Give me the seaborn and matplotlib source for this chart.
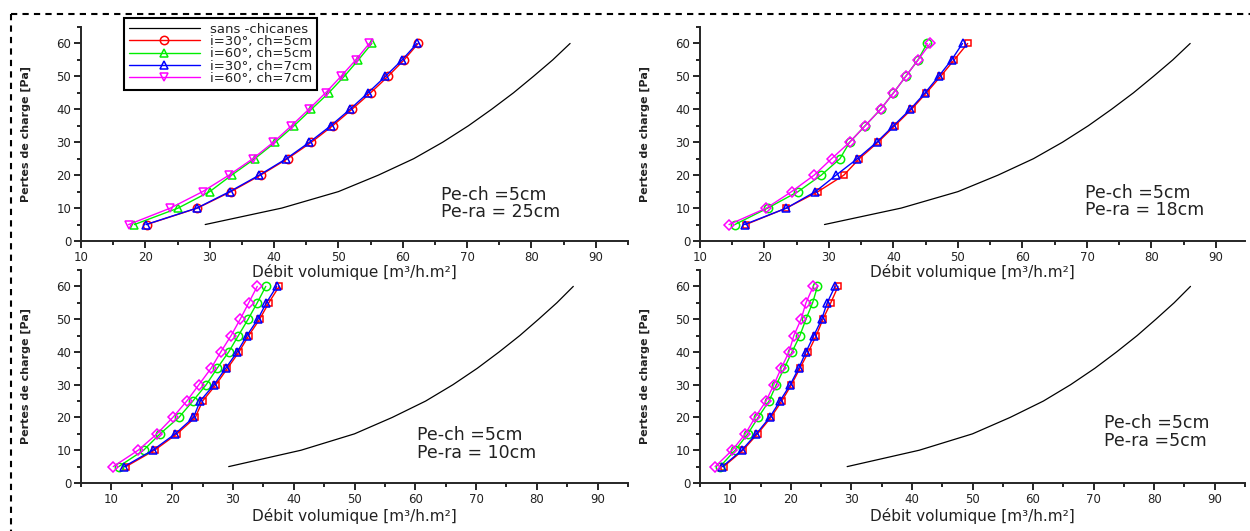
import numpy as np
import pandas as pd
import seaborn as sns
import matplotlib
matplotlib.use("Agg")
import matplotlib.pyplot as plt
from matplotlib.lines import Line2D
from matplotlib.ticker import MultipleLocator

# ---------------- data ----------------
pressure = [5, 10, 15, 20, 25, 30, 35, 40, 45, 50, 55, 60]
sans_chicanes = [29.3, 41.2, 50.0, 56.2, 61.7, 66.2, 70.2, 73.8, 77.2, 80.3, 83.3, 86.0]

# Pe-ra = 25cm (top-left)
tl_30_5 = [20.2, 28.1, 33.3, 37.9, 42.1, 45.8, 49.1, 52.1, 55.0, 57.7, 60.2, 62.4]
tl_60_5 = [18.3, 25.1, 30.0, 33.4, 37.0, 40.2, 43.1, 45.8, 48.5, 50.9, 53.1, 55.2]
tl_30_7 = [20.1, 28.0, 33.1, 37.7, 41.9, 45.5, 48.8, 51.8, 54.6, 57.3, 59.9, 62.2]
tl_60_7 = [17.4, 23.9, 28.9, 33.0, 36.7, 39.9, 42.7, 45.4, 48.0, 50.4, 52.7, 54.8]

# Pe-ra = 18cm (top-right)
tr_30_5 = [17.1, 23.4, 28.3, 32.3, 34.7, 37.6, 40.2, 42.8, 45.1, 47.3, 49.4, 51.5]
tr_60_5 = [15.4, 20.5, 25.2, 28.8, 31.7, 33.2, 35.6, 38.0, 40.0, 41.9, 43.8, 45.2]
tr_30_7 = [16.9, 23.4, 27.9, 31.1, 34.4, 37.4, 40.0, 42.6, 44.9, 47.0, 49.0, 50.7]
tr_60_7 = [14.5, 20.3, 24.2, 27.7, 30.4, 33.2, 35.6, 38.0, 40.0, 41.9, 43.8, 45.7]

# Pe-ra = 10cm (bottom-left)
bl_30_5 = [12.4, 17.1, 20.8, 23.8, 25.0, 27.2, 29.1, 31.0, 32.6, 34.4, 35.9, 37.6]
bl_60_5 = [11.2, 15.3, 18.0, 21.1, 23.4, 25.6, 27.4, 29.3, 30.9, 32.5, 34.0, 35.4]
bl_30_7 = [12.1, 16.8, 20.5, 23.5, 24.6, 26.9, 28.8, 30.7, 32.3, 34.1, 35.5, 37.2]
bl_60_7 = [10.3, 14.4, 17.5, 20.1, 22.4, 24.4, 26.4, 28.0, 29.7, 31.2, 32.6, 34.0]

# Pe-ra = 5cm (bottom-right)
br_30_5 = [8.9, 12.1, 14.5, 16.7, 18.5, 20.1, 21.5, 22.9, 24.2, 25.3, 26.6, 27.8]
br_60_5 = [8.3, 10.8, 12.9, 14.6, 16.4, 17.6, 18.9, 20.2, 21.5, 22.5, 23.6, 24.4]
br_30_7 = [8.7, 11.9, 14.3, 16.5, 18.2, 19.9, 21.3, 22.5, 23.8, 25.1, 26.0, 27.3]
br_60_7 = [7.5, 10.3, 12.5, 14.1, 15.9, 17.2, 18.4, 19.7, 20.5, 21.7, 22.5, 23.7]

series_labels = ["i=30°, ch=5cm", "i=60°, ch=5cm", "i=30°, ch=7cm", "i=60°, ch=7cm"]
panel_notes = ["Pe-ch =5cm\nPe-ra = 25cm", "Pe-ch =5cm\nPe-ra = 18cm",
               "Pe-ch =5cm\nPe-ra = 10cm", "Pe-ch =5cm\nPe-ra =5cm"]
xlabel = "Débit volumique [m³/h.m²]"
ylabel = "Pertes de charge [Pa]"

# ---------------- style ----------------
sns.set_theme(style="ticks")
plt.rcParams['font.family'] = ['DejaVu Sans']
plt.rcParams['axes.linewidth'] = 1.4

colors = ['#FF0000', '#00EE00', '#0000FF', '#FF00FF']

fig = plt.figure(figsize=(12.5, 5.31), dpi=100)
W, H = 1250, 531

def px_axes(l, r, top, bot):
    return fig.add_axes([l / W, 1 - bot / H, (r - l) / W, (bot - top) / H])

panels = [
    dict(ax=px_axes(81, 628, 27, 241), xlim=(10, 95),
         data=[tl_30_5, tl_60_5, tl_30_7, tl_60_7], markers=['o', '^', '^', 'v'],
         note=panel_notes[0], npos=(0.658, 0.176), lpad=0),
    dict(ax=px_axes(700, 1245, 27, 241), xlim=(10, 94.5),
         data=[tr_30_5, tr_60_5, tr_30_7, tr_60_7], markers=['s', 'o', '^', 'D'],
         note=panel_notes[1], npos=(0.706, 0.185), lpad=0),
    dict(ax=px_axes(81, 628, 270, 483), xlim=(5, 95),
         data=[bl_30_5, bl_60_5, bl_30_7, bl_60_7], markers=['s', 'o', '^', 'D'],
         note=panel_notes[2], npos=(0.614, 0.183), lpad=2),
    dict(ax=px_axes(700, 1245, 270, 483), xlim=(5, 95),
         data=[br_30_5, br_60_5, br_30_7, br_60_7], markers=['s', 'o', '^', 'D'],
         note=panel_notes[3], npos=(0.741, 0.239), lpad=2),
]

msize = {'o': 6, '^': 6, 'v': 6, 's': 5, 'D': 5}

for i, p in enumerate(panels):
    ax = p['ax']
    ax.patch.set_alpha(0)
    sns.lineplot(x=sans_chicanes, y=pressure, ax=ax, color='black', linewidth=0.9,
                 sort=False, label="sans -chicanes")
    for vals, c, m, lab in zip(p['data'], colors, p['markers'], series_labels):
        sns.lineplot(x=vals, y=pressure, ax=ax, color=c, linewidth=1.0, sort=False,
                     marker=m, markersize=msize[m], markerfacecolor='none',
                     markeredgecolor=c, markeredgewidth=1.1, label=lab)
    ax.set_xlim(*p['xlim'])
    ax.set_ylim(0, 65)
    ax.xaxis.set_major_locator(MultipleLocator(10))
    ax.xaxis.set_minor_locator(MultipleLocator(5))
    ax.yaxis.set_major_locator(MultipleLocator(10))
    ax.yaxis.set_minor_locator(MultipleLocator(5))
    ax.tick_params(which='major', direction='out', length=5, width=1.2,
                   labelsize=8.5, pad=2, color='black', labelcolor='#222222')
    ax.tick_params(which='minor', direction='out', length=3, width=1.2, color='black')
    sns.despine(ax=ax)
    ax.set_xlabel(xlabel, fontsize=11, labelpad=p['lpad'], color='#222222')
    ax.set_ylabel(ylabel, fontsize=8, fontweight='bold', labelpad=18, color='#222222')
    ax.text(p['npos'][0], p['npos'][1], p['note'], transform=ax.transAxes,
            fontsize=12.5, ha='left', va='center', linespacing=0.95, color='#222222')
    if i == 0:
        handles, labels = ax.get_legend_handles_labels()
    leg = ax.get_legend()
    if leg is not None:
        leg.remove()

leg = fig.legend(handles, labels, loc='upper left', bbox_to_anchor=(124 / W, 1 - 18 / H),
                 bbox_transform=fig.transFigure, borderaxespad=0, fontsize=9.5,
                 labelspacing=-0.05, handlelength=5.4, handletextpad=0.8,
                 borderpad=0.35, fancybox=False, framealpha=1, edgecolor='black')
leg.get_frame().set_linewidth(1.5)
for t in leg.get_texts():
    t.set_color('#222222')

# dashed border (top and left)
x0, y0 = 11 / W, 1 - 14 / H
fig.add_artist(Line2D([x0, 1.0], [y0, y0], transform=fig.transFigure, color='black',
                      lw=1.5, linestyle=(0, (3, 2.5))))
fig.add_artist(Line2D([x0, x0], [y0, 0.0], transform=fig.transFigure, color='black',
                      lw=1.5, linestyle=(0, (3, 2.5))))

fig.savefig("out.png", dpi=100)
